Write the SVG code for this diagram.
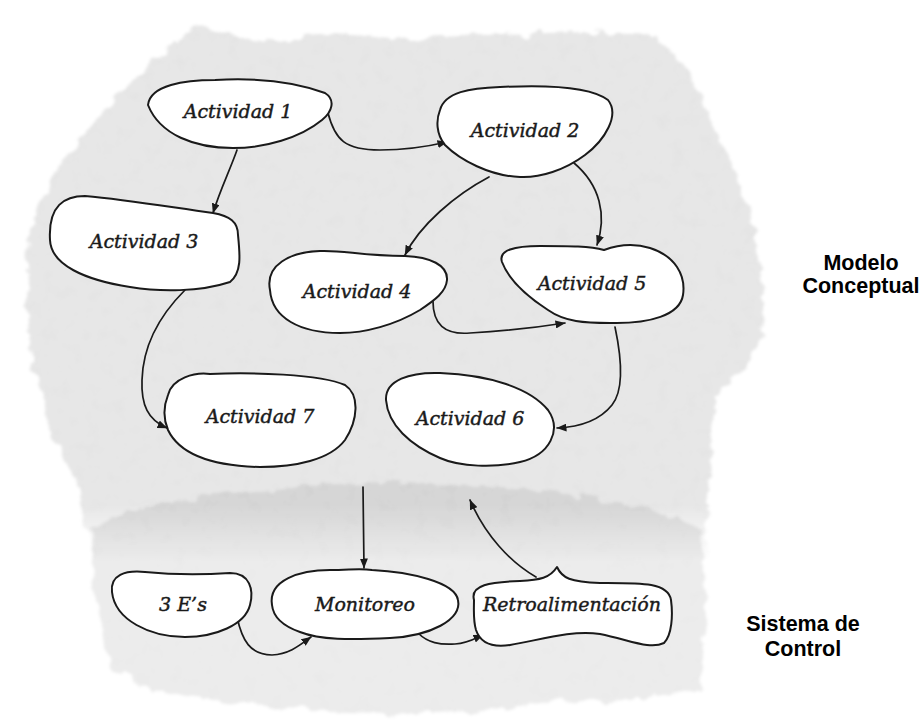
<svg xmlns="http://www.w3.org/2000/svg" width="924" height="720" viewBox="0 0 924 720">
  <style>
    .node { fill: #ffffff; stroke: #1a1a1a; stroke-width: 2; stroke-linejoin: round; }
    .label { font-family: "DejaVu Serif", "Liberation Serif", serif; font-style: italic; font-size: 19px; fill: #1a1a1a; stroke: #1a1a1a; stroke-width: 0.45; text-anchor: middle; }
    .edge { fill: none; stroke: #1a1a1a; stroke-width: 1.7; stroke-linecap: round; }
    .side { font-family: "Liberation Sans", Arial, sans-serif; font-weight: bold; font-size: 21.5px; fill: #000000; text-anchor: middle; }
    .upper { fill: #000000; fill-opacity: 0.095; }
    .lower { fill: #000000; fill-opacity: 0.075; }
  </style>
  <defs>
    <marker id="arrow" viewBox="0 0 10 8" refX="9.5" refY="4" markerWidth="10" markerHeight="8" markerUnits="userSpaceOnUse" orient="auto">
      <path d="M0,0 L10,4 L0,8 Z" fill="#1a1a1a"/>
    </marker>
    <!-- torn, mottled paper look for the two background areas -->
    <filter id="torn" x="-5%" y="-5%" width="110%" height="110%">
      <feTurbulence type="fractalNoise" baseFrequency="0.06" numOctaves="4" seed="4" result="warp"/>
      <feDisplacementMap in="SourceGraphic" in2="warp" scale="14" xChannelSelector="R" yChannelSelector="G" result="rough"/>
      <feGaussianBlur in="rough" stdDeviation="1.6" result="shape"/>
      <feTurbulence type="fractalNoise" baseFrequency="0.07" numOctaves="3" seed="11" result="grain"/>
      <feColorMatrix in="grain" type="matrix" values="0 0 0 0 0  0 0 0 0 0  0 0 0 0 0  0 0 0 0.3 -0.11" result="grainA"/>
      <feComposite in="grainA" in2="shape" operator="in" result="mottle"/>
      <feMerge>
        <feMergeNode in="shape"/>
        <feMergeNode in="mottle"/>
      </feMerge>
    </filter>
    <!-- the upper sheet thins out where it lies over the lower one -->
    <linearGradient id="fadeGrad" gradientUnits="userSpaceOnUse" x1="0" y1="505" x2="0" y2="562">
      <stop offset="0" stop-color="#ffffff"/>
      <stop offset="1" stop-color="#000000"/>
    </linearGradient>
    <mask id="fadeBottom" maskUnits="userSpaceOnUse" x="0" y="0" width="924" height="720">
      <rect x="0" y="0" width="924" height="720" fill="url(#fadeGrad)"/>
    </mask>
  </defs>

  <!-- background areas -->
  <g id="background">
    <g mask="url(#fadeBottom)">
      <path class="upper" filter="url(#torn)" d="M196,28 L260,40 L330,34 L420,38 L500,34 L590,32 L655,36 L682,60 L703,102 L728,157 L750,213 L762,268 L764,335 L744,370 L716,396 L710,450 L706,560 L560,566 L400,562 L240,566 L92,560 L75,478 L50,430 L32,370 L26,300 L30,232 L48,185 L80,140 L118,95 L155,58 Z"/>
    </g>
    <path class="lower" filter="url(#torn)" d="M90,528 C150,497 280,484 380,483 C500,483 640,498 702,530 L706,620 L700,690 C650,700 600,703 560,700 C500,711 430,715 380,713 C300,712 200,700 150,690 L112,670 L96,600 Z"/>
  </g>

  <!-- connectors -->
  <g id="connectors">
    <path class="edge" marker-end="url(#arrow)" d="M328,113 C335,140 345,150 380,150 C410,150 430,146 447,142"/>
    <path class="edge" marker-end="url(#arrow)" d="M237,150 C230,170 220,190 213,213"/>
    <path class="edge" marker-end="url(#arrow)" d="M489,177 C455,195 420,225 405,255"/>
    <path class="edge" marker-end="url(#arrow)" d="M574,163 C600,185 607,215 597,245"/>
    <path class="edge" marker-end="url(#arrow)" d="M433,298 C432,325 445,335 470,333 C505,331 540,327 565,323"/>
    <path class="edge" marker-end="url(#arrow)" d="M185,290 C160,315 143,345 142,380 C141,405 148,420 167,428"/>
    <path class="edge" marker-end="url(#arrow)" d="M615,327 C622,360 624,390 612,405 C600,420 580,427 557,428"/>
    <path class="edge" marker-end="url(#arrow)" d="M363,487 L364,568"/>
    <path class="edge" marker-end="url(#arrow)" d="M536,577 C510,562 485,535 470,500"/>
    <path class="edge" marker-end="url(#arrow)" d="M237,617 C242,640 250,655 272,655 C290,654 300,645 311,637"/>
    <path class="edge" marker-end="url(#arrow)" d="M418,633 C428,643 440,645 455,644 C468,643 476,638 483,635"/>
  </g>

  <g id="actividad-1">
    <path class="node" d="M148,105 C150,85 185,80 215,80 C250,78 290,80 325,93 C336,100 332,112 322,120 C300,138 265,148 233,148 C195,148 160,135 148,105 Z"/>
    <text class="label" x="238" y="118">Actividad 1</text>
  </g>
  <g id="actividad-2">
    <path class="node" d="M440,110 C445,92 470,88 500,87 C540,85 590,86 608,100 C620,115 605,140 585,155 C565,170 540,178 520,177 C490,176 460,160 445,145 C436,134 436,120 440,110 Z"/>
    <text class="label" x="525" y="137">Actividad 2</text>
  </g>
  <g id="actividad-3">
    <path class="node" d="M50,240 C48,205 65,196 85,196 C130,200 175,208 213,213 C230,216 238,222 238,235 C240,255 242,272 230,282 C200,292 160,292 130,287 C85,280 51,265 50,240 Z"/>
    <text class="label" x="144" y="248">Actividad 3</text>
  </g>
  <g id="actividad-4">
    <path class="node" d="M270,290 C265,265 290,252 320,251 C345,250 360,256 405,256 C430,257 448,265 447,280 C446,292 435,300 420,310 C395,325 365,333 340,333 C300,333 272,318 270,290 Z"/>
    <text class="label" x="357" y="298">Actividad 4</text>
  </g>
  <g id="actividad-5">
    <path class="node" d="M502,262 C498,250 515,246 540,246 C570,246 590,246 604,250 C615,246 630,242 650,248 C675,256 686,275 683,295 C680,315 650,324 610,323 C585,323 565,322 548,310 C525,295 508,278 502,262 Z"/>
    <text class="label" x="592" y="290">Actividad 5</text>
  </g>
  <g id="actividad-7">
    <path class="node" d="M168,395 C172,378 195,372 210,374 C250,372 320,374 345,385 C360,395 358,420 345,440 C330,460 295,467 260,467 C215,466 180,455 168,430 C163,418 164,405 168,395 Z"/>
    <text class="label" x="260" y="423">Actividad 7</text>
  </g>
  <g id="actividad-6">
    <path class="node" d="M386,400 C385,380 410,372 440,373 C490,375 530,388 548,410 C562,430 550,455 520,462 C495,468 460,467 440,458 C410,445 388,425 386,400 Z"/>
    <text class="label" x="470" y="425">Actividad 6</text>
  </g>
  <g id="tres-es">
    <path class="node" d="M112,592 C110,575 125,570 145,572 C175,575 200,575 230,573 C250,573 254,590 250,605 C245,625 215,637 185,637 C150,637 115,620 112,592 Z"/>
    <text class="label" x="183" y="611">3 E’s</text>
  </g>
  <g id="monitoreo">
    <path class="node" d="M272,605 C268,580 300,570 330,570 C350,570 360,568 372,570 C410,572 455,582 458,600 C462,620 430,636 390,638 C350,640 320,640 300,632 C280,625 273,615 272,605 Z"/>
    <text class="label" x="365" y="611">Monitoreo</text>
  </g>
  <g id="retroalimentacion">
    <path class="node" d="M474,600 C470,585 490,582 520,581 C540,580 550,578 557,567 C562,578 570,582 600,583 C640,583 668,582 671,600 C673,615 672,635 664,643 C650,650 630,640 600,634 C570,630 540,640 510,645 C490,648 480,642 476,630 C473,620 474,610 474,600 Z"/>
    <text class="label" x="572" y="611">Retroalimentación</text>
  </g>

  <g id="modelo-conceptual">
    <text class="side" x="861" y="270">Modelo</text>
    <text class="side" x="861" y="293">Conceptual</text>
  </g>
  <g id="sistema-de-control">
    <text class="side" x="803" y="631">Sistema de</text>
    <text class="side" x="803" y="656">Control</text>
  </g>
</svg>
